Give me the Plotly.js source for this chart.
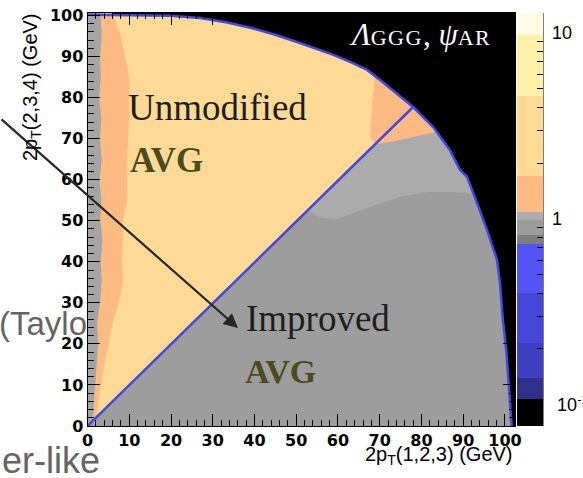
<!DOCTYPE html>
<html><head><meta charset="utf-8">
<script src="https://cdn.plot.ly/plotly-3.0.1.min.js"></script>
<style>html,body{margin:0;padding:0;background:#fff;} #chart{width:583px;height:478px;}</style>
</head><body><div id="chart"></div>
<script>
// ---- data (GeV) ----
// outer kinematic edge of the populated region
const edgeX = [0, 10, 20, 27, 33.5, 39, 45, 50.9, 55.7, 58.9, 62.9, 66.9, 70.1, 78, 82.8, 86.8, 89.2, 90.9, 93.3, 95.7, 98.1, 98.8, 99.5, 100.3, 101, 101.6];
const edgeY = [100.2, 100.1, 99.9, 99.4, 98.3, 97, 95.3, 93.3, 91.6, 90.4, 88.7, 86.8, 84.3, 77.7, 72.8, 67.2, 62.4, 60.7, 54.3, 47.7, 40.4, 34.8, 25.8, 18.5, 8.8, 0];
// diagonal separating "Unmodified" (above) and "Improved" (below)
const diagX = [0, 78];
const diagY = [0, 77.7];
// left band, ratio 1.7-4 (dark peach): right edge
const bandY = [0, 5, 10, 15, 20, 25, 30, 35, 40, 50, 55, 65, 75, 85, 95, 100.6];
const bandX = [2, 2.5, 3.2, 4, 5, 6, 7.5, 8.5, 8.3, 8.5, 9.5, 9.5, 10, 10, 8, 6];
// left band, ratio ~1 (gray): right edge
const stripY = [0, 5, 10, 15, 20, 25, 30, 35, 40, 45, 50, 55, 60, 65, 70, 75, 80, 85, 90, 95, 100.6];
const stripX = [1.2, 1.5, 1.8, 2.2, 2.6, 2.3, 3, 3.4, 3.2, 3.6, 3.1, 3.3, 2.9, 3.4, 3, 3.3, 2.8, 3.2, 3, 3.4, 3.1];
// lighter gray zone below the diagonal (ratio slightly above 1)
const lightX = [52.6, 78, 82.8, 86.8, 89.2, 90.9, 92.5, 90.9, 86.8, 81.3, 74.9, 67, 59.8, 55.7];
const lightY = [52.6, 77.7, 72.8, 67.2, 62.4, 60.7, 56.3, 56.8, 57, 57, 55.8, 53.1, 50.4, 50.7];
// dark peach patch at the upper end of the diagonal
const patchX = [68.8, 70.1, 78, 82.8, 83.3, 73.2, 69.3, 67.7, 68.2];
const patchY = [85.3, 84.3, 77.7, 72.8, 71.6, 69.3, 68.6, 70.3, 78];
// colour levels (log10 of ratio) and colours
const levelEdges = [-1.113, -0.968, -0.855, -0.667, -0.398, -0.134, -0.086, -0.005, 0.038, 0.231, 0.661, 0.989, 1.1075];
const levelColors = ['#000000','#30308A','#3F3FC2','#4646D8','#5353F6','#7F7F7F','#9C9C9C','#ADADAD','#FDBB83','#FFDA96','#FFF1A8','#FFFCE3'];
const cbMajorVals = [-1, 0, 1];
const cbMajorText = ['\u00a0\u00a010<sup>-1</sup>', '\u00a01', '\u00a010'];
const cbMinorRatios = [0.09, 0.2, 0.3, 0.4, 0.5, 0.6, 0.7, 0.8, 0.9, 2, 3, 4, 5, 6, 7, 8, 9];

// ---- build ----
const cmin = levelEdges[0], cmax = levelEdges[levelEdges.length - 1];
const colorscale = [];
levelColors.forEach((c, i) => {
  colorscale.push([(levelEdges[i] - cmin) / (cmax - cmin), c]);
  colorscale.push([(levelEdges[i + 1] - cmin) / (cmax - cmin), c]);
});
const BLUE = '#4646E0';
function poly(x, y, color) {
  return {type:'scatter', mode:'lines', x:x, y:y, fill:'toself', fillcolor:color,
          line:{width:0, color:color}, xaxis:'x2', yaxis:'y2', hoverinfo:'skip'};
}
const innerX = [0].concat(edgeX, [0]);
const innerY = [0].concat(edgeY, [0]);
const bandPX = [0].concat(bandX, [0]);
const bandPY = [0].concat(bandY, [100.6]);
const stripPX = [0].concat(stripX, [0]);
const stripPY = [0].concat(stripY, [100.6]);
const lowX = [diagX[0]], lowY = [diagY[0]];
edgeX.forEach((x, i) => { if (x >= diagX[1]) { lowX.push(x); lowY.push(edgeY[i]); } });

const traces = [
  // left overlay text (clipped at plot frame)
  {type:'scatter', mode:'text', x:[-1], y:[151.5], text:['(Taylor'], textposition:'middle right',
   textfont:{family:'Liberation Sans', size:33, color:'#646464'}, cliponaxis:true, hoverinfo:'skip'},
  poly(innerX, innerY, '#FFDA96'),
  poly(bandPX, bandPY, '#FDBB83'),
  poly(stripPX, stripPY, '#A5A5A5'),
  poly(lowX, lowY, '#9D9D9D'),
  poly(lightX, lightY, '#ABABAB'),
  poly(patchX, patchY, '#FDBB83'),
  {type:'scatter', mode:'lines', x:diagX, y:diagY, line:{color:BLUE, width:2.5}, xaxis:'x2', yaxis:'y2', hoverinfo:'skip'},
  {type:'scatter', mode:'lines', x:edgeX, y:edgeY, line:{color:BLUE, width:2.5}, xaxis:'x2', yaxis:'y2', hoverinfo:'skip'}
];
const cbBase = {x:517/583, xanchor:'left', xpad:0, thickness:26, thicknessmode:'pixels',
  len:413/478, lenmode:'fraction', y:(478-219.5)/478, yanchor:'middle', ypad:0, outlinewidth:0,
  tickmode:'array', ticks:'inside', tickcolor:'#000'};
traces.push({type:'scatter', mode:'markers', x:[-50], y:[-50], xaxis:'x2', yaxis:'y2', hoverinfo:'skip',
  marker:{size:1, color:[0], colorscale:colorscale, cmin:cmin, cmax:cmax, showscale:true,
    colorbar:Object.assign({}, cbBase, {tickvals:cbMajorVals, ticktext:cbMajorText, ticklen:11, tickwidth:1.5,
      tickfont:{family:'Liberation Sans', size:18, color:'#000'}})}});
traces.push({type:'scatter', mode:'markers', x:[-50], y:[-50], xaxis:'x2', yaxis:'y2', hoverinfo:'skip',
  marker:{size:1, color:[0], colorscale:colorscale, cmin:cmin, cmax:cmax, showscale:true,
    colorbar:Object.assign({}, cbBase, {tickvals:cbMinorRatios.map(Math.log10), ticktext:cbMinorRatios.map(()=>''),
      ticklen:6, tickwidth:1, showticklabels:false})}});

const tickFont = {family:'DejaVu Sans', size:16, color:'#000', weight:'bold'};
const axBase = {ticks:'inside', ticklen:12, tickwidth:1, tickcolor:'#000', dtick:10, tick0:0,
  minor:{ticks:'inside', ticklen:6, dtick:2, tick0:0, tickcolor:'#000', tickwidth:1},
  showline:true, linecolor:'#000', linewidth:1, mirror:'ticks', showgrid:false, zeroline:false,
  tickfont:tickFont, fixedrange:true};
const P = (px) => px / 583, Q = (py) => (478 - py) / 478;
const serif = 'Liberation Serif';
const layout = {
  width:583, height:478, margin:{l:0, r:0, t:0, b:0, pad:0, autoexpand:false},
  paper_bgcolor:'#fff', plot_bgcolor:'rgba(0,0,0,0)', showlegend:false, hovermode:false,
  xaxis:{domain:[0, 87.5/583], range:[0, 87.5], visible:false, anchor:'y', fixedrange:true},
  yaxis:{domain:[0, 1], range:[0, 478], visible:false, anchor:'x', fixedrange:true},
  xaxis2:Object.assign({}, axBase, {domain:[87.5/583, 515/583], range:[0, 102.4], anchor:'y2'}),
  yaxis2:Object.assign({}, axBase, {domain:[52/478, 465/478], range:[0, 100.6], anchor:'x2'}),
  shapes:[
    {type:'rect', xref:'x2 domain', yref:'y2 domain', x0:0, x1:1, y0:0, y1:1, fillcolor:'#000', line:{width:0}, layer:'below'},
    {type:'line', xref:'paper', yref:'paper', x0:P(543), x1:P(543), y0:Q(426), y1:Q(13), line:{color:'#000', width:1}}
  ],
  annotations:[
    {xref:'paper', yref:'paper', x:P(238), y:Q(328), ax:-238, ay:-210, text:'', showarrow:true,
     arrowhead:2, arrowsize:1.3, arrowwidth:2.2, arrowcolor:'#262626'},
    {xref:'paper', yref:'paper', x:P(126), y:Q(107.5), xanchor:'left', yanchor:'middle', showarrow:false,
     text:'Unmodified', font:{family:serif, size:37, color:'#1e1e1e'}},
    {xref:'paper', yref:'paper', x:P(128), y:Q(160), xanchor:'left', yanchor:'middle', showarrow:false,
     text:'<b>AVG</b>', font:{family:serif, size:35, color:'#4b4b1e'}},
    {xref:'paper', yref:'paper', x:P(244), y:Q(318.4), xanchor:'left', yanchor:'middle', showarrow:false,
     text:'Improved', font:{family:serif, size:37, color:'#1e1e1e'}},
    {xref:'paper', yref:'paper', x:P(243), y:Q(371), xanchor:'left', yanchor:'middle', showarrow:false,
     text:'<b>AVG</b>', font:{family:serif, size:34, color:'#4b4b1e'}},
    {xref:'paper', yref:'paper', x:P(347), y:Q(34), xanchor:'left', yanchor:'middle', showarrow:false,
     text:'<i>Λ</i><span style="font-size:22px;letter-spacing:1.5px">GGG</span>, <i>ψ</i><span style="font-size:22px;letter-spacing:1.5px">AR</span>',
     font:{family:serif, size:31, color:'#fff'}},
    {xref:'paper', yref:'paper', x:P(0), y:Q(460.4), xanchor:'left', yanchor:'middle', showarrow:false,
     text:'er-like', font:{family:'Liberation Sans', size:36, color:'#646464'}},
    {xref:'paper', yref:'paper', x:P(32), y:Q(87), xanchor:'center', yanchor:'middle', showarrow:false, textangle:-90,
     text:'2p<sub>T</sub>(2,3,4) (GeV)', font:{family:'Liberation Sans', size:20, color:'#000'}},
    {xref:'paper', yref:'paper', x:P(515), y:Q(455), xanchor:'right', yanchor:'middle', showarrow:false,
     text:'2p<sub>T</sub>(1,2,3) (GeV)', font:{family:'Liberation Sans', size:20, color:'#000'}}
  ]
};
Plotly.newPlot('chart', traces, layout, {staticPlot:true, displayModeBar:false});
</script></body></html>
